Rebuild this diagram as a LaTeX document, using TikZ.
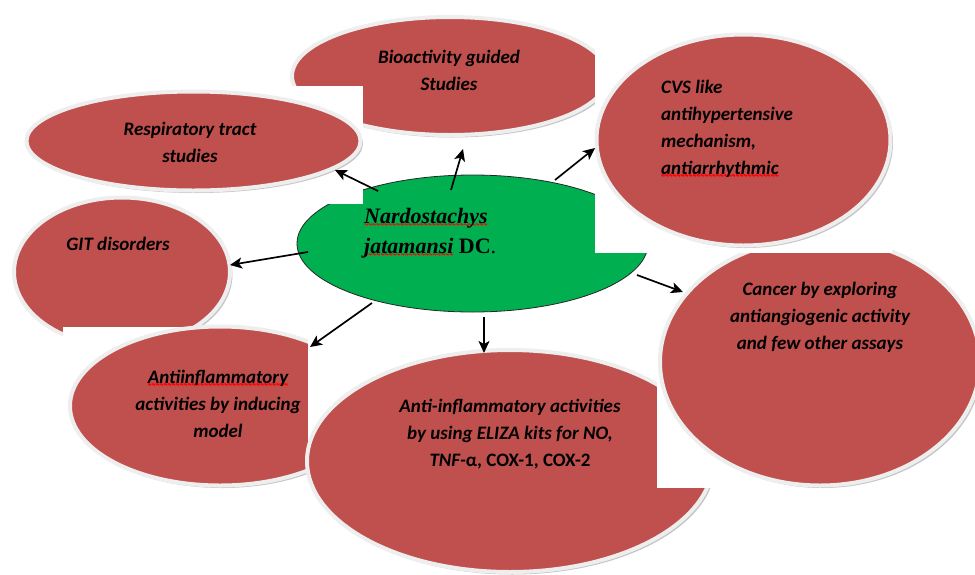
\documentclass[tikz,border=0pt]{standalone}
\usepackage{fontspec}
\usepackage{graphicx}
\setmainfont{Carlito}
\newfontfamily\tnr{Liberation Serif}
\newfontfamily\wavefont{DejaVu Sans Mono}
\usetikzlibrary{shapes.geometric,shadows,arrows.meta}
\definecolor{bubred}{RGB}{192,80,77}
\definecolor{bubgreen}{RGB}{0,176,80}
\definecolor{ringgray}{RGB}{238,238,238}
\newsavebox\wavebox
\newcommand\redwave[1]{\sbox\wavebox{#1}%
  \rlap{\textcolor{red}{\raisebox{-7pt}{\hbox to \wd\wavebox{\xleaders\hbox{\scalebox{1}[2.8]{\wavefont\fontsize{6.5}{6.5}\selectfont\char"007E}}\hfill}}}}%
  \usebox\wavebox}
\begin{document}
\begin{tikzpicture}[x=1pt,y=-1pt,
  bubble/.style={ellipse, fill=bubred, draw=ringgray, line width=4pt, inner sep=0pt,
    drop shadow={shadow xshift=2.5pt,shadow yshift=-2.5pt,fill=black!45}},
  mask/.style={fill=white, draw=none},
  lbl/.style={font=\fontsize{19}{27}\selectfont\bfseries\itshape, align=center, inner sep=0pt},
  arr/.style={line width=1.7pt, -{Stealth[length=12pt,width=11pt,inset=3pt]}}]
\useasboundingbox (0,0) rectangle (975,574);
\clip (0,0) rectangle (975,574);
\fill[white] (0,0) rectangle (975,574);

% background shapes, in stacking order
\node[bubble, minimum width=316pt, minimum height=118pt] (bio) at (450,76) {};
\node[ellipse, fill=bubgreen, draw=black!85, line width=0.8pt, inner sep=0pt,
      minimum width=351pt, minimum height=137pt] (green) at (472.5,243.5) {};
\fill[mask] (20,86) rectangle (363,204);
\node[bubble, minimum width=334pt, minimum height=99pt] (resp) at (193.5,141) {};
\node[bubble, minimum width=216pt, minimum height=149pt] (git) at (122,272) {};
\fill[mask] (63,327) rectangle (308,500);
\node[bubble, minimum width=300pt, minimum height=159pt] (anti) at (220,406) {};
\fill[mask] (308,330) rectangle (672,574);
\node[bubble, minimum width=406pt, minimum height=222pt] (eliza) at (510,461) {};
\fill[mask] (657,245) rectangle (975,488);
\node[bubble, minimum width=320pt, minimum height=247pt] (cancer) at (820,362) {};
\fill[mask] (595,28) rectangle (892,253);
\node[bubble, minimum width=294pt, minimum height=211pt] (cvs) at (743.5,140) {};

% texts
\node[lbl] (tbio) at (449,70) {Bioactivity guided\\Studies};
\node[lbl] (tresp) at (190,142) {Respiratory tract\\studies};
\node[lbl, align=left, anchor=west] (tcvs) at (661,131) {CVS like\\antihypertensive\\mechanism,\\\redwave{antiarrhythmic}};
\node[lbl] (tgit) at (118,244) {GIT disorders};
\node[lbl] (tcan) at (820,317) {Cancer by exploring\\antiangiogenic activity\\and few other assays};
\node[lbl] (tanti) at (218,404) {\redwave{Antiinflammatory}\\activities by inducing\\model};
\node[lbl] (teli) at (510,434) {Anti-inflammatory activities\\by using ELIZA kits for NO,\\\textit{TNF-}\textup{α, COX-1, COX-2}};
\node[anchor=west, align=left, inner sep=0pt, font=\tnr\fontsize{22}{30}\selectfont] (tgreen) at (364,234)
  {\redwave{\textbf{\textit{Nardostachys}}}\\\redwave{\textbf{\textit{jatamansi}}} \textbf{DC}.};

% connector ends
\coordinate (gResp) at (378,191);  \coordinate (eResp) at (335,170);
\coordinate (gBio) at (451,190);   \coordinate (eBio) at (463,149);
\coordinate (gCvs) at (555,180);   \coordinate (eCvs) at (595,148);
\coordinate (gGit) at (308,252);   \coordinate (eGit) at (230,265);
\coordinate (gCan) at (637,275);   \coordinate (eCan) at (683,292);
\coordinate (gAnti) at (372,303);  \coordinate (eAnti) at (310,347);
\coordinate (gEli) at (484,317);   \coordinate (eEli) at (484,353);

\draw[arr] (gResp) -- (eResp);
\draw[arr] (gBio) -- (eBio);
\draw[arr] (gCvs) -- (eCvs);
\draw[arr] (gGit) -- (eGit);
\draw[arr] (gCan) -- (eCan);
\draw[arr] (gAnti) -- (eAnti);
\draw[arr] (gEli) -- (eEli);
\end{tikzpicture}
\end{document}
